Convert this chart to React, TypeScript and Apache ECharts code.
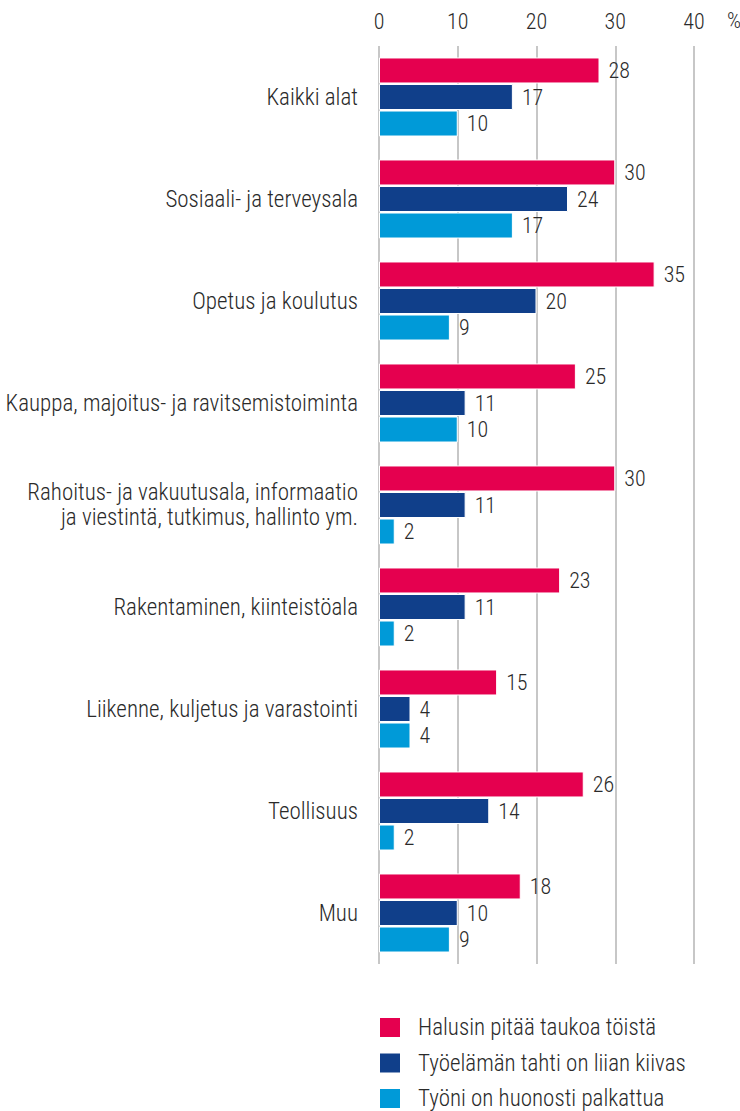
import React, { useEffect, useRef } from "react";
import * as echarts from "echarts";

const categories = [
  "Kaikki alat",
  "Sosiaali- ja terveysala",
  "Opetus ja koulutus",
  "Kauppa, majoitus- ja ravitsemistoiminta",
  "Rahoitus- ja vakuutusala, informaatio\nja viestintä, tutkimus, hallinto ym.",
  "Rakentaminen, kiinteistöala",
  "Liikenne, kuljetus ja varastointi",
  "Teollisuus",
  "Muu",
];
const seriesNames = [
  "Halusin pitää taukoa töistä",
  "Työelämän tahti on liian kiivas",
  "Työni on huonosti palkattua",
];
const tauko = [28, 30, 35, 25, 30, 23, 15, 26, 18];
const tahti = [17, 24, 20, 11, 11, 11, 4, 14, 10];
const palkka = [10, 17, 9, 10, 2, 2, 4, 2, 9];
const xTicks = [0, 10, 20, 30, 40];
const colors = ["#e5004f", "#103f8a", "#009ad8"];

const FONT = "'Roboto Condensed', 'Liberation Sans Narrow', 'DejaVu Sans Condensed', sans-serif";
const TEXT = "#2a2a2a";
const W = 300;

export default function App() {
  const ref = useRef<HTMLDivElement>(null);
  useEffect(() => {
    document.body.style.margin = "0";
    const chart = echarts.init(ref.current!, null, { renderer: "svg" });
    const values = [tauko, tahti, palkka];
    chart.setOption({
      animation: false,
      textStyle: { fontFamily: FONT, fontWeight: W },
      grid: { left: 379, right: 46, top: 46, bottom: 147, containLabel: false },
      xAxis: {
        type: "value",
        position: "top",
        min: xTicks[0],
        max: xTicks[xTicks.length - 1],
        interval: 10,
        axisLine: { show: false },
        axisTick: { show: false },
        axisLabel: { fontSize: 22, color: TEXT, fontFamily: FONT, fontWeight: W, margin: 14 },
        splitLine: { show: true, lineStyle: { color: "#b4b4b4", width: 1.5 } },
      },
      yAxis: {
        type: "category",
        data: categories,
        inverse: true,
        axisLine: { show: false },
        axisTick: { show: false },
        axisLabel: {
          fontSize: 23,
          color: TEXT,
          fontFamily: FONT,
          fontWeight: W,
          margin: 21,
          align: "right",
          lineHeight: 25,
        },
      },
      legend: {
        orient: "vertical",
        left: 378,
        top: 1016,
        height: 200,
        padding: 0,
        itemWidth: 22,
        itemHeight: 21,
        itemGap: 12.5,
        icon: "rect",
        textStyle: {
          fontSize: 23,
          lineHeight: 21,
          color: TEXT,
          fontFamily: FONT,
          fontWeight: W,
          padding: [0, 0, 0, 12],
        },
        data: seriesNames,
      },
      graphic: [
        {
          type: "text",
          left: 727,
          top: 9,
          style: { text: "%", fontSize: 22, fill: TEXT, fontFamily: FONT, fontWeight: W },
        },
      ],
      series: seriesNames.map((name, i) => ({
        name,
        type: "bar",
        data: values[i],
        barWidth: 26,
        barGap: "2%",
        itemStyle: { color: colors[i], borderColor: "#ffffff", borderWidth: 1 },
        label: {
          show: true,
          position: "right",
          distance: 9,
          fontSize: 22,
          color: TEXT,
          fontFamily: FONT,
          fontWeight: W,
        },
      })),
    });
    return () => chart.dispose();
  }, []);
  return <div ref={ref} style={{ width: 740, height: 1111 }} />;
}
